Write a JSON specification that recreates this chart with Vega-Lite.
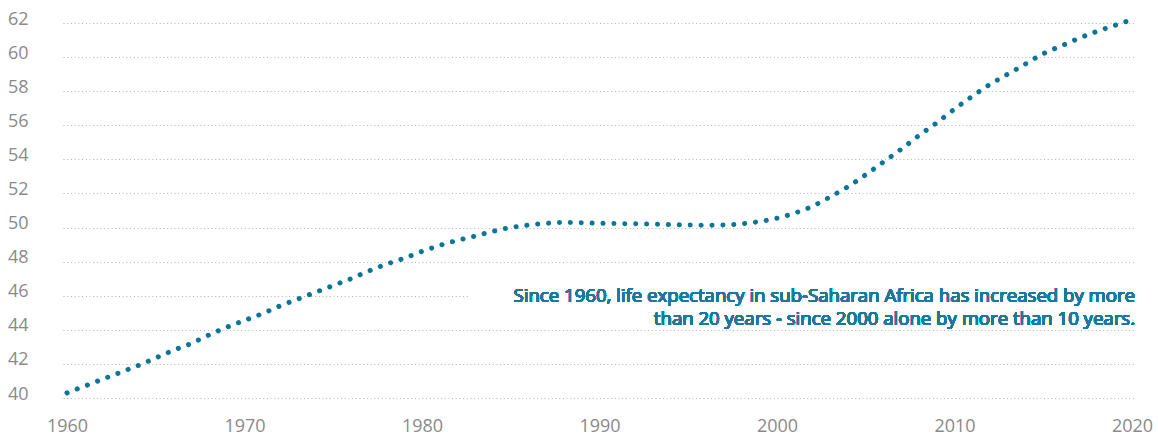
{
  "$schema": "https://vega.github.io/schema/vega-lite/v6.json",
  "autosize": {"type": "none"},
  "width": 1073,
  "height": 375,
  "padding": {"left": 63, "top": 23, "right": 22, "bottom": 40},
  "background": "white",
  "config": {
    "view": {"stroke": null},
    "font": "Open Sans",
    "axis": {"labelFont": "Open Sans", "labelFontSize": 18, "labelColor": "#8a8a8a", "domain": false, "ticks": false, "title": null}
  },
  "data": {
    "values": [
      {"year": 1960, "life": 40.3}, {"year": 1961, "life": 40.7}, {"year": 1962, "life": 41.1},
      {"year": 1963, "life": 41.5}, {"year": 1964, "life": 41.9}, {"year": 1965, "life": 42.35},
      {"year": 1966, "life": 42.8}, {"year": 1967, "life": 43.2}, {"year": 1968, "life": 43.7},
      {"year": 1969, "life": 44.15}, {"year": 1970, "life": 44.55}, {"year": 1971, "life": 44.95},
      {"year": 1972, "life": 45.4}, {"year": 1973, "life": 45.8}, {"year": 1974, "life": 46.2},
      {"year": 1975, "life": 46.6}, {"year": 1976, "life": 47.0}, {"year": 1977, "life": 47.45},
      {"year": 1978, "life": 47.85}, {"year": 1979, "life": 48.2}, {"year": 1980, "life": 48.6},
      {"year": 1981, "life": 48.95}, {"year": 1982, "life": 49.25}, {"year": 1983, "life": 49.5},
      {"year": 1984, "life": 49.78}, {"year": 1985, "life": 50.0}, {"year": 1986, "life": 50.15},
      {"year": 1987, "life": 50.25}, {"year": 1988, "life": 50.3}, {"year": 1989, "life": 50.28},
      {"year": 1990, "life": 50.25}, {"year": 1991, "life": 50.23}, {"year": 1992, "life": 50.22},
      {"year": 1993, "life": 50.2}, {"year": 1994, "life": 50.17}, {"year": 1995, "life": 50.15},
      {"year": 1996, "life": 50.14}, {"year": 1997, "life": 50.15}, {"year": 1998, "life": 50.22},
      {"year": 1999, "life": 50.35}, {"year": 2000, "life": 50.55}, {"year": 2001, "life": 50.85},
      {"year": 2002, "life": 51.25}, {"year": 2003, "life": 51.8}, {"year": 2004, "life": 52.4},
      {"year": 2005, "life": 53.1}, {"year": 2006, "life": 53.85}, {"year": 2007, "life": 54.6},
      {"year": 2008, "life": 55.4}, {"year": 2009, "life": 56.15}, {"year": 2010, "life": 56.95},
      {"year": 2011, "life": 57.7}, {"year": 2012, "life": 58.4}, {"year": 2013, "life": 59.0},
      {"year": 2014, "life": 59.6}, {"year": 2015, "life": 60.2}, {"year": 2016, "life": 60.65},
      {"year": 2017, "life": 61.1}, {"year": 2018, "life": 61.5}, {"year": 2019, "life": 61.85},
      {"year": 2020, "life": 62.2}
    ]
  },
  "encoding": {
    "x": {
      "field": "year", "type": "quantitative",
      "scale": {"domain": [1959.775, 2020.225], "nice": false, "zero": false},
      "axis": {"values": [1960, 1970, 1980, 1990, 2000, 2010, 2020], "format": "d", "grid": false, "labelPadding": 19, "labelFlush": false}
    },
    "y": {
      "field": "life", "type": "quantitative",
      "scale": {"domain": [40, 62], "nice": false, "zero": false},
      "axis": {"values": [40, 42, 44, 46, 48, 50, 52, 54, 56, 58, 60, 62], "grid": true, "gridColor": "#b0b0b0", "gridDash": [1, 2.7], "gridWidth": 1, "labelPadding": 35, "labelAlign": "right", "labelBaseline": "middle", "labelOffset": -4}
    }
  },
  "layer": [
    {
      "mark": {"type": "rect", "color": "white"},
      "encoding": {
        "x": {"datum": 1982.6, "type": "quantitative"},
        "x2": {"datum": 2020.3},
        "y": {"datum": 44.25, "type": "quantitative"},
        "y2": {"datum": 46.85}
      }
    },
    {
      "mark": {"type": "line", "color": "#0b7598", "strokeWidth": 5, "strokeCap": "round", "strokeDash": [0.1, 10.8], "interpolate": "monotone"}
    },
    {
      "mark": {"type": "text", "align": "right", "baseline": "alphabetic", "font": "Open Sans", "fontSize": 18.6, "fontWeight": "normal", "color": "#1a7a9e", "lineHeight": 23,
        "text": ["Since 1960, life expectancy in sub-Saharan Africa has increased by more", "than 20 years - since 2000 alone by more than 10 years."]},
      "encoding": {
        "x": {"datum": 2020.17, "type": "quantitative"},
        "y": {"datum": 45.64, "type": "quantitative"}
      }
    }
  ]
}
